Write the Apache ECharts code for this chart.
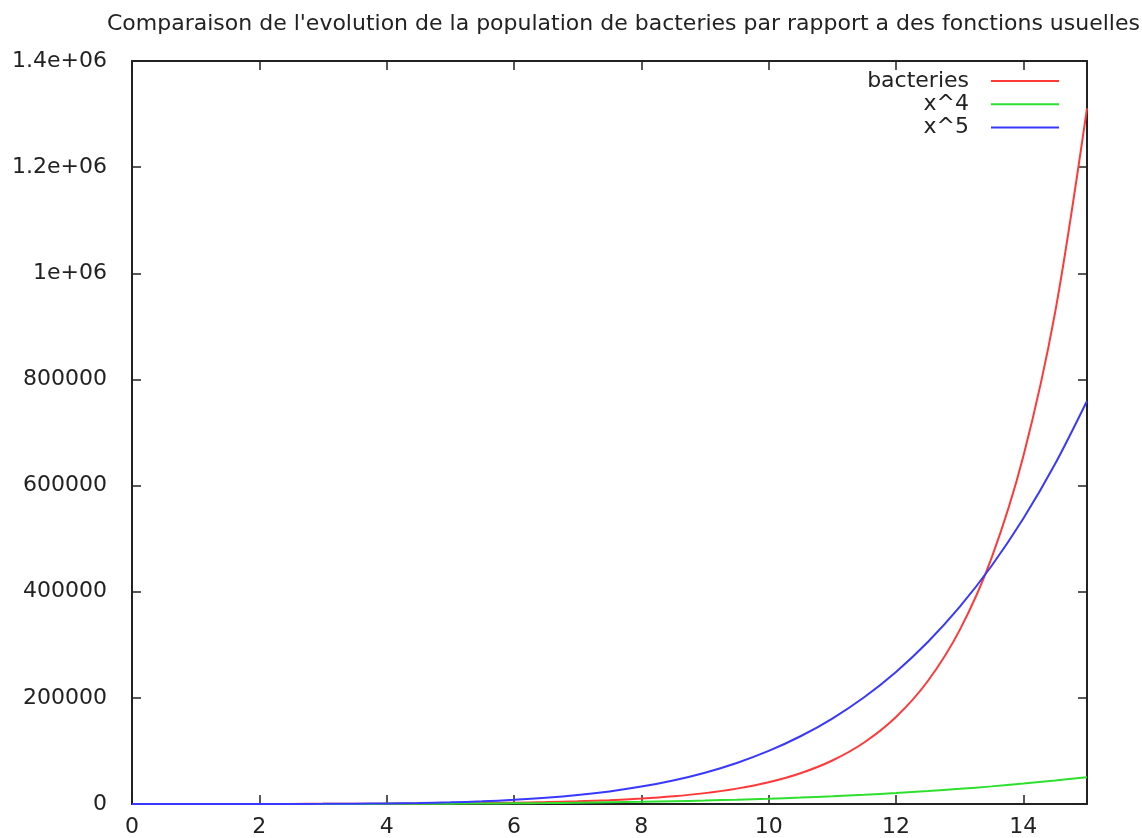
<!DOCTYPE html>
<html>
<head>
<meta charset="utf-8">
<script src="https://cdn.jsdelivr.net/npm/echarts@6/dist/echarts.min.js"></script>
<style>
  html, body { margin: 0; padding: 0; background: #fff; }
  #chart { width: 1142px; height: 838px; }
</style>
</head>
<body>
<div id="chart"></div>
<script>
// Sample abscissas (hours) and the three curves evaluated there
const xs = [0, 0.5, 1, 1.5, 2, 2.5, 3, 3.5, 4, 4.5, 5, 5.5, 6, 6.5, 7, 7.5,
            8, 8.5, 9, 9.5, 10, 10.5, 11, 11.5, 12, 12.5, 13, 13.5, 14, 14.5, 15];

const bacteries = [40, 56.6, 80, 113.1, 160, 226.3, 320, 452.5, 640, 905.1,
                   1280, 1810, 2560, 3620, 5120, 7241, 10240, 14482, 20480, 28963,
                   40960, 57926, 81920, 115852, 163840, 231705, 327680, 463410,
                   655360, 926819, 1310720];

const xPow4 = [0, 0.06, 1, 5.06, 16, 39.06, 81, 150.06, 256, 410.06,
               625, 915.06, 1296, 1785.06, 2401, 3164.06, 4096, 5220.06, 6561, 8145.06,
               10000, 12155.06, 14641, 17490.06, 20736, 24414.06, 28561, 33215.06,
               38416, 44205.06, 50625];

const xPow5 = [0, 0.03, 1, 7.59, 32, 97.66, 243, 525.22, 1024, 1845.28,
               3125, 5032.84, 7776, 11602.91, 16807, 23730.47, 32768, 44370.53, 59049, 77378.09,
               100000, 127628.16, 161051, 201135.72, 248832, 305175.78, 371293, 448403.34,
               537824, 640973.22, 759375];

const xTicks = [0, 2, 4, 6, 8, 10, 12, 14];
const yTickLabels = ['0', '200000', '400000', '600000', '800000', '1e+06', '1.2e+06', '1.4e+06'];
const seriesNames = ['bacteries', 'x^4', 'x^5'];
const seriesColors = ['#ff3838', '#2ee02e', '#3838ff'];

const FONT = 'DejaVu Sans';
const FONT_SIZE = 22;
const textColor = '#222';
const axisColor = '#222';

const pairs = ys => xs.map((x, i) => [x, ys[i]]);

const chart = echarts.init(document.getElementById('chart'), null, { renderer: 'canvas' });

// Frame: four axes drawn as a closed box, ticks pointing into the plot
const frameLine = { onZero: false, lineStyle: { color: axisColor, width: 2 } };
const tickStyle = { color: axisColor, width: 1.5 };

const commonX = {
  type: 'value', min: 0, max: 15, interval: 2,
  axisLine: frameLine,
  splitLine: { show: false }
};
const commonY = {
  type: 'value', min: 0, max: 1400000, interval: 200000,
  axisLine: frameLine,
  splitLine: { show: false }
};

const legendRows = seriesNames.map((name, i) => ({
  data: [name],
  orient: 'vertical',
  align: 'right',
  right: 83,
  top: 70 + i * 23.3,
  padding: 0,
  icon: 'rect',
  itemWidth: 68,
  itemHeight: 2,
  selectedMode: false,
  textStyle: { fontFamily: FONT, fontSize: FONT_SIZE, color: textColor, padding: [0, 17, 0, 0] }
}));

chart.setOption({
  animation: false,
  backgroundColor: '#fff',
  title: {
    text: "Comparaison de l'evolution de la population de bacteries par rapport a des fonctions usuelles",
    left: 107, top: 13, padding: 0,
    textStyle: { fontFamily: FONT, fontSize: FONT_SIZE, fontWeight: 'normal', color: textColor }
  },
  legend: legendRows,
  grid: { left: 132, right: 55, top: 61, bottom: 33, containLabel: false },
  xAxis: [
    Object.assign({}, commonX, {
      position: 'bottom',
      axisTick: { inside: true, length: 9, customValues: xTicks, lineStyle: tickStyle },
      axisLabel: { customValues: xTicks, margin: 12, fontFamily: FONT, fontSize: FONT_SIZE, color: textColor }
    }),
    Object.assign({}, commonX, {
      position: 'top',
      axisTick: { inside: true, length: 9, customValues: xTicks, lineStyle: tickStyle },
      axisLabel: { show: false }
    })
  ],
  yAxis: [
    Object.assign({}, commonY, {
      position: 'left',
      axisTick: { inside: true, length: 9, lineStyle: tickStyle },
      axisLabel: {
        margin: 25, fontFamily: FONT, fontSize: FONT_SIZE, color: textColor,
        formatter: v => yTickLabels[Math.round(v / 200000)]
      }
    }),
    Object.assign({}, commonY, {
      position: 'right',
      axisTick: { inside: true, length: 9, lineStyle: tickStyle },
      axisLabel: { show: false }
    })
  ],
  series: [bacteries, xPow4, xPow5].map((ys, i) => ({
    name: seriesNames[i],
    type: 'line',
    data: pairs(ys),
    smooth: 0.3,
    showSymbol: false,
    symbol: 'none',
    color: seriesColors[i],
    lineStyle: { color: seriesColors[i], width: 2 },
    z: 3 + i
  }))
});
</script>
</body>
</html>
